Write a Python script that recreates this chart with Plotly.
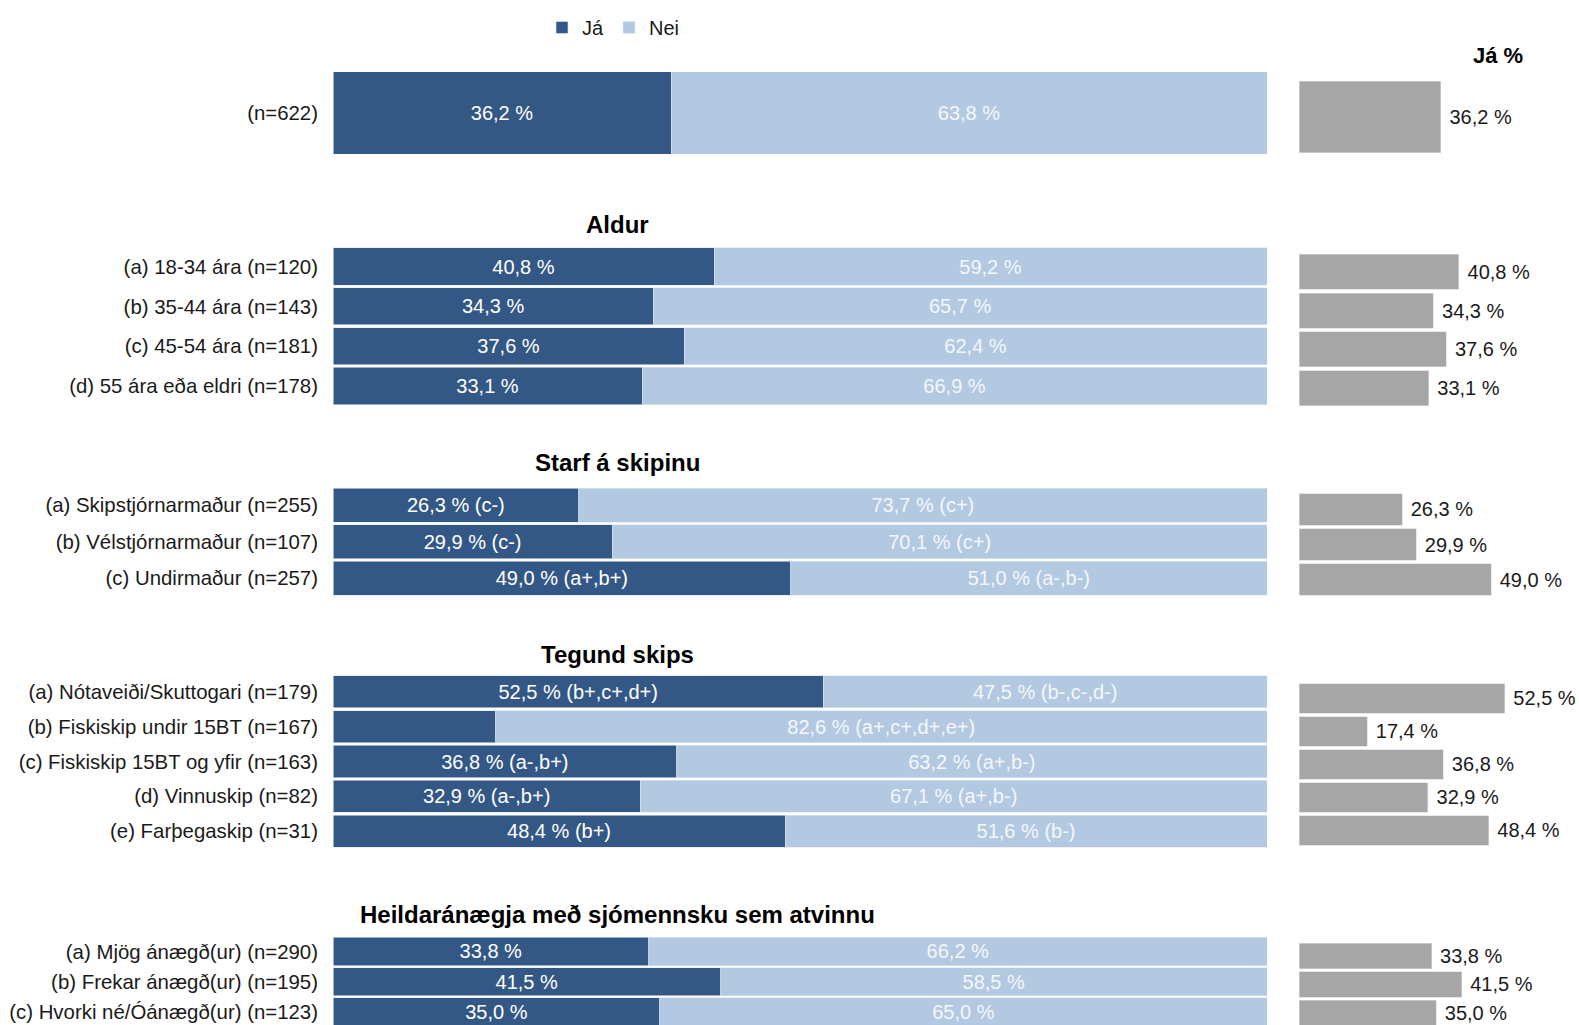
import plotly.graph_objects as go

# ---------------- data ----------------
total_labels = ["(n=622)"]
total_ja = [36.2]
total_nei = [63.8]
total_ja_sig = [""]
total_nei_sig = [""]

aldur_labels = ["(a) 18-34 ára (n=120)", "(b) 35-44 ára (n=143)",
                "(c) 45-54 ára (n=181)", "(d) 55 ára eða eldri (n=178)"]
aldur_ja = [40.8, 34.3, 37.6, 33.1]
aldur_nei = [59.2, 65.7, 62.4, 66.9]
aldur_ja_sig = ["", "", "", ""]
aldur_nei_sig = ["", "", "", ""]

starf_labels = ["(a) Skipstjórnarmaður (n=255)", "(b) Vélstjórnarmaður (n=107)",
                "(c) Undirmaður (n=257)"]
starf_ja = [26.3, 29.9, 49.0]
starf_nei = [73.7, 70.1, 51.0]
starf_ja_sig = ["(c-)", "(c-)", "(a+,b+)"]
starf_nei_sig = ["(c+)", "(c+)", "(a-,b-)"]

tegund_labels = ["(a) Nótaveiði/Skuttogari (n=179)", "(b) Fiskiskip undir 15BT (n=167)",
                 "(c) Fiskiskip 15BT og yfir (n=163)", "(d) Vinnuskip (n=82)",
                 "(e) Farþegaskip (n=31)"]
tegund_ja = [52.5, 17.4, 36.8, 32.9, 48.4]
tegund_nei = [47.5, 82.6, 63.2, 67.1, 51.6]
tegund_ja_sig = ["(b+,c+,d+)", "(a-,c-,d-,e-)", "(a-,b+)", "(a-,b+)", "(b+)"]
tegund_nei_sig = ["(b-,c-,d-)", "(a+,c+,d+,e+)", "(a+,b-)", "(a+,b-)", "(b-)"]

heild_labels = ["(a) Mjög ánægð(ur) (n=290)", "(b) Frekar ánægð(ur) (n=195)",
                "(c) Hvorki né/Óánægð(ur) (n=123)"]
heild_ja = [33.8, 41.5, 35.0]
heild_nei = [66.2, 58.5, 65.0]
heild_ja_sig = ["", "", ""]
heild_nei_sig = ["", "", ""]

group_titles = ["", "Aldur", "Starf á skipinu", "Tegund skips",
                "Heildaránægja með sjómennsku sem atvinnu"]

groups = [
    (total_labels, total_ja, total_nei, total_ja_sig, total_nei_sig),
    (aldur_labels, aldur_ja, aldur_nei, aldur_ja_sig, aldur_nei_sig),
    (starf_labels, starf_ja, starf_nei, starf_ja_sig, starf_nei_sig),
    (tegund_labels, tegund_ja, tegund_nei, tegund_ja_sig, tegund_nei_sig),
    (heild_labels, heild_ja, heild_nei, heild_ja_sig, heild_nei_sig),
]

# ---------------- layout helpers ----------------
W, H = 1579, 1025
DARK = "#345886"
LIGHT = "#b3c9e1"
GREY = "#a6a6a6"
FONT = "Liberation Sans, Arial, sans-serif"


def px_x(px):
    return px / W


def px_y(px):
    return 1 - px / H


def pct(v, sig):
    s = f"{v:.1f}".replace(".", ",") + " %"
    return s + (" " + sig if sig else "")


# pixel boxes: (left top, left bottom, right top, right bottom, bar width, title y)
boxes = [
    (71.7, 154.0, 80.0, 154.0, 1.0, None),
    (246.7, 405.8, 252.5, 407.5, 0.935, 224.5),
    (487.0, 596.5, 491.8, 597.2, 0.93, 463.0),
    (674.5, 848.5, 682.0, 847.0, 0.92, 654.5),
    (936.3, H, 942.0, H, 0.93, 914.0),
]
last_pitch = (30.3, 28.3)

# right panel: 100 % would be 392 px wide, starting at x=1299
right_start = 1299
right_max = (W - right_start) / 3.92

fig = go.Figure()
layout = {}

for i, ((labels, ja, nei, ja_sig, nei_sig), box) in enumerate(zip(groups, boxes)):
    lt, lb, rt, rb, bw, ty = box
    n = len(labels)
    la, ra = 2 * i + 1, 2 * i + 2
    lx, ly = f"x{la}", f"y{la}"
    rx, ry = f"x{ra}", f"y{ra}"

    fig.add_trace(go.Bar(
        y=labels, x=ja, orientation="h", name="Já", width=bw,
        marker=dict(color=DARK, line=dict(color="#dfe7f1", width=0.6)),
        text=[pct(v, s) for v, s in zip(ja, ja_sig)],
        textposition="inside", insidetextanchor="middle",
        textfont=dict(color="white", size=20, family=FONT),
        xaxis=lx, yaxis=ly, showlegend=(i == 0), legendrank=1,
    ))
    fig.add_trace(go.Bar(
        y=labels, x=nei, orientation="h", name="Nei", width=bw,
        marker=dict(color=LIGHT, line=dict(color="#dfe7f1", width=0.6)),
        text=[pct(v, s) for v, s in zip(nei, nei_sig)],
        textposition="inside", insidetextanchor="middle",
        textfont=dict(color="#f4f7fb", size=20, family=FONT),
        xaxis=lx, yaxis=ly, showlegend=(i == 0), legendrank=2,
    ))
    fig.add_trace(go.Bar(
        y=labels, x=ja, orientation="h", width=bw - 0.03,
        marker=dict(color=GREY, line=dict(color="#d9d9d9", width=0.6)),
        text=[" " + pct(v, "") for v in ja], textposition="outside",
        constraintext="none", cliponaxis=False,
        textfont=dict(color="#1a1a1a", size=20, family=FONT),
        xaxis=rx, yaxis=ry, showlegend=False,
    ))

    yr_l = [n - 0.5, -0.5]
    yr_r = [n - 0.5, -0.5]
    if i == len(groups) - 1:
        # the last group is cut off by the bottom edge of the picture
        yr_l = [-0.5 + (lb - lt) / last_pitch[0], -0.5]
        yr_r = [-0.5 + (rb - rt) / last_pitch[1], -0.5]

    layout[f"xaxis{la}"] = dict(domain=[px_x(333), px_x(1267)], range=[0, 100],
                                visible=False, anchor=ly)
    layout[f"yaxis{la}"] = dict(domain=[max(0, px_y(lb)), px_y(lt)], range=yr_l,
                                type="category", categoryorder="array",
                                categoryarray=labels, showgrid=False, zeroline=False,
                                ticks="", ticklabelstandoff=14, anchor=lx,
                                tickfont=dict(size=20.4, color="#1a1a1a", family=FONT))
    layout[f"xaxis{ra}"] = dict(domain=[px_x(right_start), 1.0], range=[0, right_max],
                                visible=False, anchor=ry)
    layout[f"yaxis{ra}"] = dict(domain=[max(0, px_y(rb)), px_y(rt)], range=yr_r,
                                type="category", categoryorder="array",
                                categoryarray=labels, showticklabels=False,
                                showgrid=False, zeroline=False, anchor=rx)

annotations = []
for title, box in zip(group_titles, boxes):
    if title:
        annotations.append(dict(
            text=f"<b>{title}</b>", x=px_x(617), y=px_y(box[5]), xref="paper",
            yref="paper", xanchor="center", yanchor="middle", showarrow=False,
            font=dict(size=24, color="black", family=FONT)))
annotations.append(dict(
    text="<b>Já %</b>", x=px_x(1498), y=px_y(55), xref="paper", yref="paper",
    xanchor="center", yanchor="middle", showarrow=False,
    font=dict(size=22, color="black", family=FONT)))

fig.update_layout(
    **layout,
    width=W, height=H,
    margin=dict(l=0, r=0, t=0, b=0),
    barmode="stack",
    plot_bgcolor="white", paper_bgcolor="white",
    font=dict(family=FONT, size=20, color="#1a1a1a"),
    uniformtext=dict(minsize=20, mode="hide"),
    annotations=annotations,
    legend=dict(orientation="h", x=px_x(542), y=px_y(8), xanchor="left", yanchor="top",
                font=dict(size=20, family=FONT), traceorder="normal",
                itemwidth=30, bgcolor="rgba(0,0,0,0)"),
)

# drop the page's default body margin so the figure fills the window exactly
fig.write_html("out.html",
               config={"displayModeBar": False},
               post_script="document.body.style.margin='0';"
                           "document.body.style.overflow='hidden';")
